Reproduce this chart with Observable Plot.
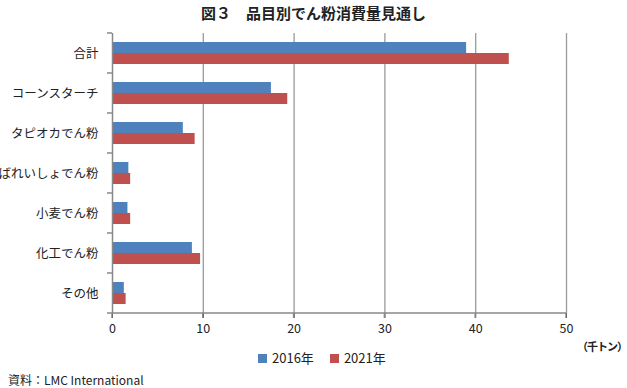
<!DOCTYPE html>
<html><head><meta charset="utf-8">
<script src="https://cdn.jsdelivr.net/npm/d3@7"></script>
<script src="https://cdn.jsdelivr.net/npm/@observablehq/plot@0.6"></script>
<style>
body{margin:0;background:#fff;font-family:"Noto Sans CJK JP","Noto Sans",sans-serif;color:#222;}
#wrap{position:relative;width:627px;height:388px;overflow:hidden;}
#title{position:absolute;left:0;top:3px;width:627px;text-align:center;font-size:15px;font-weight:bold;line-height:20px;}
#chart{position:absolute;left:0;top:26px;}
#unit{position:absolute;right:0px;top:338px;font-size:11px;font-weight:bold;line-height:16px;letter-spacing:-1px;white-space:nowrap;}
#legend{position:absolute;left:258px;top:349px;font-size:13px;line-height:18px;display:flex;align-items:center;white-space:nowrap;}
#legend .item{display:flex;align-items:center;margin-right:16px;}
#legend .sw{display:inline-block;width:9px;height:9px;margin-right:5px;}
#caption{position:absolute;left:8px;top:372px;font-size:12px;line-height:16px;white-space:nowrap;}
</style></head>
<body>
<div id="wrap">
  <div id="title">図３　品目別でん粉消費量見通し</div>
  <div id="chart"></div>
  <div id="unit">（千トン）</div>
  <div id="legend"></div>
  <div id="caption">資料：LMC International</div>
</div>
<script>
const categories = ["合計","コーンスターチ","タピオカでん粉","ばれいしょでん粉","小麦でん粉","化工でん粉","その他"];
const years = ["2016年","2021年"];
const values2016 = [39.0, 17.5, 7.8, 1.8, 1.7, 8.8, 1.3];
const values2021 = [43.7, 19.3, 9.1, 2.0, 2.0, 9.7, 1.5];
const xTicks = [0, 10, 20, 30, 40, 50];
const colors = ["#4F81BD", "#C0504D"];

const data = [];
categories.forEach((c, i) => {
  data.push({category: c, year: years[0], value: values2016[i]});
  data.push({category: c, year: years[1], value: values2021[i]});
});

const W = 627, H = 314, mL = 112, mR = 61, mT = 6, mB = 27;
const axisColor = "#888888";

const chart = Plot.plot({
  width: W, height: H,
  marginLeft: mL, marginRight: mR, marginTop: mT, marginBottom: mB,
  style: {fontFamily: '"Noto Sans CJK JP","Noto Sans",sans-serif', fontSize: "12.5px", color: "#222", background: "white", overflow: "visible"},
  x: {domain: [0, 50], ticks: xTicks, tickSize: 5, tickPadding: 6, label: null, tickFormat: d => d},
  y: {domain: years, paddingInner: 0, paddingOuter: 0.74, axis: null},
  fy: {domain: categories, padding: 0, axis: "left", tickSize: 0, tickPadding: 14, label: null},
  color: {domain: years, range: colors},
  marks: [
    Plot.ruleX(xTicks.filter(d => d > 0), {stroke: "#9a9a9a", strokeWidth: 1.3}),
    Plot.barX(data, {x: "value", y: "year", fy: "category", fill: "year"}),
    Plot.ruleX([0], {stroke: axisColor, strokeWidth: 1.5})
  ]
});

// axis line and category boundary ticks derived from the plot's scales
const xs = chart.scale("x");
const fys = chart.scale("fy");
const svg = d3.select(chart);
const g = svg.append("g").attr("stroke", axisColor).attr("stroke-width", 1.5);
const x0 = xs.apply(0), x50 = xs.apply(50);
const bounds = categories.map(c => fys.apply(c));
const last = fys.apply(categories[categories.length - 1]) + fys.bandwidth;
bounds.forEach(y => g.append("line").attr("x1", x0 - 5).attr("x2", x0).attr("y1", y).attr("y2", y));
g.append("line").attr("x1", x0 - 5).attr("x2", x50).attr("y1", last).attr("y2", last);
xTicks.forEach(t => g.append("line").attr("x1", xs.apply(t)).attr("x2", xs.apply(t)).attr("y1", last).attr("y2", last + 5));

document.getElementById("chart").appendChild(chart);

const legend = document.getElementById("legend");
years.forEach((y, i) => {
  const item = document.createElement("span");
  item.className = "item";
  const sw = document.createElement("span");
  sw.className = "sw";
  sw.style.background = colors[i];
  item.appendChild(sw);
  item.appendChild(document.createTextNode(y));
  legend.appendChild(item);
});
</script>
</body></html>
